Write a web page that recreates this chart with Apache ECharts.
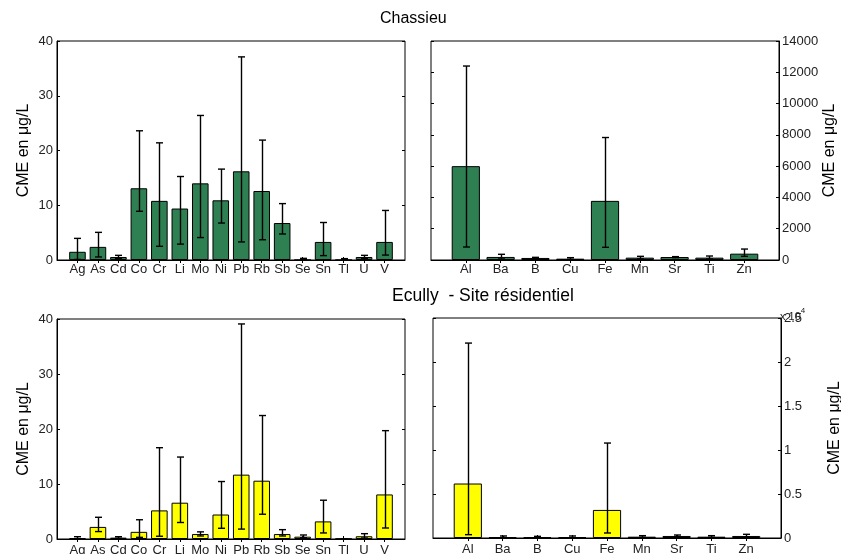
<!DOCTYPE html>
<html><head><meta charset="utf-8">
<script src="https://cdn.jsdelivr.net/npm/echarts@6/dist/echarts.min.js"></script>
<style>html,body{margin:0;padding:0;background:#fff}#c{width:841px;height:554px}</style>
</head><body><div id="c"></div>
<script>
// ---- data ----
const traceElems = ['Ag','As','Cd','Co','Cr','Li','Mo','Ni','Pb','Rb','Sb','Se','Sn','Tl','U','V'];
const majorElems = ['Al','Ba','B','Cu','Fe','Mn','Sr','Ti','Zn'];

const chassieuTrace     = [1.5, 2.4, 0.55, 13.1, 10.8, 9.4, 14.0, 10.9, 16.2, 12.6, 6.75, 0, 3.3, 0, 0.55, 3.3];
const chassieuTraceLow  = [0.1, 0.55, 0.3, 8.9, 2.5, 2.9, 4.1, 6.75, 3.3, 3.7, 4.75, 0.05, 0.8, 0.05, 0.25, 0.9];
const chassieuTraceHigh = [3.95, 5.05, 0.85, 23.6, 21.4, 15.25, 26.4, 16.6, 37.1, 21.9, 10.3, 0.3, 6.85, 0.25, 0.85, 9.05];

const chassieuMajor     = [6000, 195, 130, 85, 3780, 150, 190, 150, 405];
const chassieuMajorLow  = [830, 65, 65, 40, 810, 65, 150, 65, 235];
const chassieuMajorHigh = [12400, 365, 170, 150, 7830, 235, 215, 255, 700];

const ecullyTrace     = [0.12, 2.2, 0.25, 1.3, 5.2, 6.6, 0.9, 4.45, 11.7, 10.6, 0.9, 0.42, 3.2, 0.06, 0.5, 8.1];
const ecullyTraceLow  = [0.0, 1.35, 0.12, 0.3, 0.5, 3.0, 0.55, 1.95, 1.8, 4.5, 0.55, 0.24, 1.1, 0.06, 0.18, 2.0];
const ecullyTraceHigh = [0.42, 3.95, 0.42, 3.5, 16.6, 14.9, 1.3, 10.45, 39.1, 22.45, 1.7, 0.73, 7.05, 0.06, 0.97, 19.7];

const ecullyMajor     = [6190, 110, 110, 110, 3190, 150, 230, 150, 230];
const ecullyMajorLow  = [380, 40, 40, 40, 570, 75, 115, 75, 115];
const ecullyMajorHigh = [22150, 230, 190, 230, 10790, 265, 340, 265, 420];

const titleTop = 'Chassieu';
const titleBottom = 'Ecully  - Site résidentiel';
const yName = 'CME en μg/L';

const GREEN = '#2e8052', YELLOW = '#ffff00';
const FONT = 'Liberation Sans, Arial, sans-serif';

const chart = echarts.init(document.getElementById('c'), null, {renderer:'canvas'});

const grids = [
  {left:57, top:41, width:348, height:219},
  {left:431, top:41, width:348, height:219},
  {left:57, top:319, width:348, height:220},
  {left:433, top:318, width:348, height:220}
];
const panels = [
  {cats:traceElems, vals:chassieuTrace, lo:chassieuTraceLow, hi:chassieuTraceHigh, color:GREEN, yMax:40, yInt:10, side:'left', nameGap:25, xMargin:3},
  {cats:majorElems, vals:chassieuMajor, lo:chassieuMajorLow, hi:chassieuMajorHigh, color:GREEN, yMax:14000, yInt:2000, side:'right', nameGap:43, xMargin:3},
  {cats:traceElems, vals:ecullyTrace, lo:ecullyTraceLow, hi:ecullyTraceHigh, color:YELLOW, yMax:40, yInt:10, side:'left', nameGap:25, xMargin:5},
  {cats:majorElems, vals:ecullyMajor, lo:ecullyMajorLow, hi:ecullyMajorHigh, color:YELLOW, yMax:25000, yInt:5000, side:'right', nameGap:46, xMargin:5, fmt:v=>String(v/10000)}
];

const option = {
  animation:false,
  textStyle:{fontFamily:FONT},
  grid: grids.map(g=>Object.assign({show:true, borderColor:'#000', borderWidth:1, backgroundColor:'transparent', containLabel:false, outerBoundsMode:'none'}, g)),
  xAxis:[], yAxis:[], series:[],
  graphic:[
    {type:'text', left:380, top:11, style:{text:titleTop, font:'16px '+FONT, fill:'#000'}},
    {type:'text', left:392, top:287, style:{text:titleBottom, font:'17.5px '+FONT, fill:'#000'}},
    {type:'text', left:780, top:307, z:10, style:{rich:{b:{fontSize:11,fontFamily:FONT,fill:'#222',padding:[4,0,0,0]},s:{fontSize:8,fontFamily:FONT,fill:'#222',verticalAlign:'top'}}, text:'{b|x 10}{s|4}'}}
  ]
};

panels.forEach((p,i)=>{
  const padded = [''].concat(p.cats, ['']);
  const n = padded.length;
  const hidePad = (idx)=> idx>0 && idx<n-1;
  option.xAxis.push({
    type:'category', gridIndex:i, data:padded, boundaryGap:false, position:'bottom',
    axisLine:{show:true, lineStyle:{color:'#000', width:1}},
    axisTick:{show:true, inside:true, length:3, interval:(idx)=>hidePad(idx), lineStyle:{color:'#000'}},
    axisLabel:{show:true, interval:0, color:'#222', fontSize:13, fontFamily:FONT, margin:p.xMargin},
    splitLine:{show:false}
  });
  option.xAxis.push({
    type:'category', gridIndex:i, data:padded, boundaryGap:false, position:'top',
    axisLine:{show:false},
    axisTick:{show:true, inside:true, length:3, interval:(idx)=>hidePad(idx), lineStyle:{color:'#000'}},
    axisLabel:{show:false}, splitLine:{show:false}
  });
  const other = p.side==='left'?'right':'left';
  option.yAxis.push({
    type:'value', gridIndex:i, min:0, max:p.yMax, interval:p.yInt, position:p.side,
    name:yName, nameLocation:'middle', nameGap:p.nameGap, nameRotate:90,
    nameTextStyle:{fontSize:16, fontFamily:FONT, color:'#000'},
    axisLine:{show:true, lineStyle:{color:'#000', width:1}},
    axisTick:{show:true, inside:true, length:3, lineStyle:{color:'#000'}},
    axisLabel:{show:true, color:'#222', fontSize:13, fontFamily:FONT, margin:p.side==='left'?4:3, formatter:p.fmt||(v=>String(v))},
    splitLine:{show:false}
  });
  option.yAxis.push({
    type:'value', gridIndex:i, min:0, max:p.yMax, interval:p.yInt, position:other,
    axisLine:{show:false},
    axisTick:{show:true, inside:true, length:3, lineStyle:{color:'#000'}},
    axisLabel:{show:false}, splitLine:{show:false}
  });
  const barData = [null].concat(p.vals, [null]);
  option.series.push({
    type:'bar', xAxisIndex:2*i, yAxisIndex:2*i, data:barData, barWidth:'81%',
    itemStyle:{color:p.color, borderColor:'#000', borderWidth:1}, silent:true
  });
  const errData = p.vals.map((v,k)=>[k+1, p.lo[k], p.hi[k]]);
  option.series.push({
    type:'custom', xAxisIndex:2*i, yAxisIndex:2*i, data:errData, silent:true, z:5,
    renderItem:(params, api)=>{
      const x = api.value(0);
      const a = api.coord([x, api.value(1)]);
      const b = api.coord([x, api.value(2)]);
      const cx = Math.round(a[0])+0.5;
      const hw = 3.5;
      const st = {stroke:'#000', lineWidth:1.4};
      return {type:'group', children:[
        {type:'line', shape:{x1:cx, y1:a[1], x2:cx, y2:b[1]}, style:st},
        {type:'line', shape:{x1:cx-hw, y1:a[1], x2:cx+hw, y2:a[1]}, style:st},
        {type:'line', shape:{x1:cx-hw, y1:b[1], x2:cx+hw, y2:b[1]}, style:st}
      ]};
    }
  });
});

chart.setOption(option);
</script></body></html>
